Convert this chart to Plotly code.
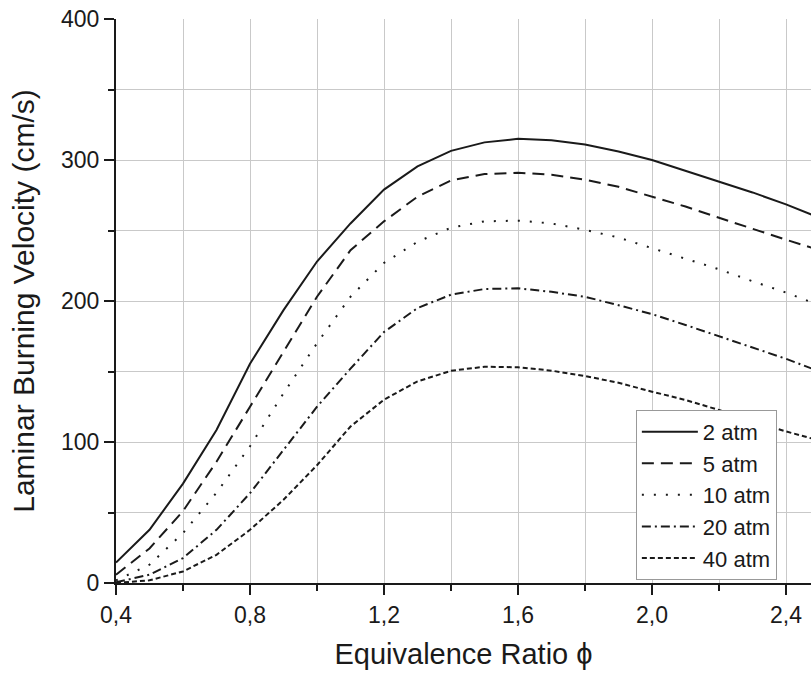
import plotly.graph_objects as go

phi = [0.4, 0.5, 0.6, 0.7, 0.8, 0.9, 1.0, 1.1, 1.2, 1.3, 1.4, 1.5, 1.6, 1.7, 1.8, 1.9, 2.0, 2.1, 2.2, 2.3, 2.4, 2.5]

v_2atm = [14.5, 37.7, 70.5, 108.5, 155.5, 193.5, 228, 255, 279, 295.5, 306.5, 312.5, 315, 314, 311, 306, 300, 292.5, 285, 277, 268.5, 259]
v_5atm = [5.9, 24.5, 51, 86, 125, 164, 203, 236, 256.5, 274, 285.5, 290, 291, 289.5, 286, 281, 274, 267, 259, 251, 243.5, 236]
v_10atm = [1.8, 13, 35.4, 64, 97, 134.5, 170, 203, 227, 242, 252, 256.5, 257, 255, 250.5, 245, 237.5, 230, 222.5, 214, 206, 197]
v_20atm = [0.5, 5.9, 17.7, 37.7, 63.7, 94.4, 125, 152, 178, 195, 204.5, 208.5, 209, 206.5, 203, 197, 190.7, 183, 175, 167, 159, 150]
v_40atm = [0, 1.9, 8.2, 20, 37.7, 59, 83.5, 111, 130, 143, 150.5, 153.4, 153, 150.6, 146.8, 142, 135.7, 129.8, 122.7, 114.4, 107.5, 101]

series_names = ["2 atm", "5 atm", "10 atm", "20 atm", "40 atm"]
series_values = [v_2atm, v_5atm, v_10atm, v_20atm, v_40atm]
dash_styles = ["solid", "12px,7px", "2px,10px", "9px,4px,2px,4px", "5px,3px"]

x_tickvals = [0.4, 0.8, 1.2, 1.6, 2.0, 2.4]
x_ticktext = ["0,4", "0,8", "1,2", "1,6", "2,0", "2,4"]
y_tickvals = [0, 100, 200, 300, 400]
y_ticktext = ["0", "100", "200", "300", "400"]

FONT = "Liberation Sans, Arial, sans-serif"
fig = go.Figure()
for name, vals, dash in zip(series_names, series_values, dash_styles):
    fig.add_trace(go.Scatter(
        x=phi, y=vals, mode="lines", name=name,
        line=dict(color="#1a1a1a", width=2, dash=dash),
    ))

grid = "#c9c9c9"
fig.update_layout(
    width=811, height=673,
    margin=dict(l=116, r=0, t=19, b=90),
    paper_bgcolor="white", plot_bgcolor="white",
    font=dict(family=FONT, color="#1a1a1a"),
    showlegend=True,
    legend=dict(
        x=0.748, y=0.307, xanchor="left", yanchor="top",
        bgcolor="white", bordercolor="#999999", borderwidth=1,
        font=dict(size=22, family=FONT, color="#1a1a1a"),
        itemwidth=56, tracegroupgap=0,
    ),
    xaxis=dict(
        range=[0.4, 2.4746], automargin=False,
        tickmode="array", tickvals=x_tickvals, ticktext=x_ticktext,
        ticks="outside", ticklen=10, tickwidth=2, tickcolor="#1a1a1a",
        showline=True, linewidth=2, linecolor="#1a1a1a",
        showgrid=True, gridcolor=grid, gridwidth=1,
        zeroline=False,
        tickfont=dict(size=23),
        minor=dict(tickmode="linear", tick0=0.4, dtick=0.2, ticks="outside", ticklen=6,
                   tickwidth=2, tickcolor="#1a1a1a", showgrid=True, gridcolor=grid, gridwidth=1),
        title=dict(text="Equivalence Ratio ϕ", font=dict(size=29), standoff=17),
    ),
    yaxis=dict(
        range=[0, 400], automargin=False,
        tickmode="array", tickvals=y_tickvals, ticktext=y_ticktext,
        ticks="outside", ticklen=10, tickwidth=2, tickcolor="#1a1a1a",
        showline=True, linewidth=2, linecolor="#1a1a1a",
        showgrid=True, gridcolor=grid, gridwidth=1,
        zeroline=False,
        tickfont=dict(size=23),
        minor=dict(tickmode="linear", tick0=0, dtick=50, ticks="outside", ticklen=6,
                   tickwidth=2, tickcolor="#1a1a1a", showgrid=True, gridcolor=grid, gridwidth=1),
        title=dict(text="Laminar Burning Velocity (cm/s)", font=dict(size=30), standoff=18),
    ),
)

fig.write_html("out.html", config={"displayModeBar": False},
               post_script="document.body.style.margin='0';document.body.style.overflow='hidden';")
